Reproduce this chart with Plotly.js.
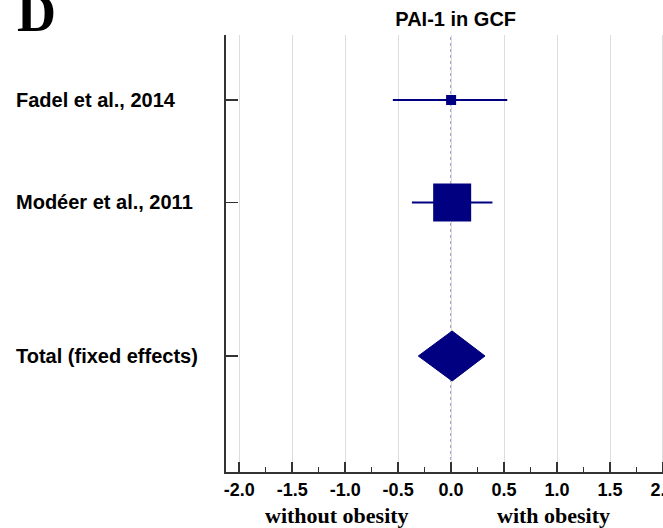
<!DOCTYPE html>
<html>
<head>
<meta charset="utf-8">
<script src="https://cdn.plot.ly/plotly-3.0.1.min.js"></script>
<style>
html, body { margin: 0; padding: 0; overflow: hidden; background: #fff; }
#chart { width: 680px; height: 528px; }
</style>
</head>
<body>
<div id="chart"></div>
<script>
// ---- data ----
var studies = ["Fadel et al., 2014", "Modéer et al., 2011"];
var studyPos = [0, 1];
var estimates = [0.0, 0.01];
var ciLow = [-0.55, -0.37];
var ciHigh = [0.53, 0.39];
var weights = [6.5, 93.5];

var totalLabel = "Total (fixed effects)";
var totalPos = 2.5;
var totalEst = 0.01;
var totalLow = -0.31;
var totalHigh = 0.32;

var xTickVals = [-2.0, -1.5, -1.0, -0.5, 0.0, 0.5, 1.0, 1.5, 2.0];
var xTickText = ["-2.0", "-1.5", "-1.0", "-0.5", "0.0", "0.5", "1.0", "1.5", "2.0"];
var chartTitle = "PAI-1 in GCF";
var panelLetter = "D";
var leftSideLabel = "without obesity";
var rightSideLabel = "with obesity";

// ---- styles ----
var NAVY = "#000080";
var sans = "Liberation Sans, Arial, sans-serif";
var serif = "Liberation Serif, Times New Roman, serif";
var diamondHalf = 0.244;

var studyTrace = {
  type: "scatter",
  mode: "markers",
  x: estimates,
  y: studyPos,
  marker: {
    symbol: "square",
    color: NAVY,
    opacity: 1,
    size: weights.map(function (w) { return 3.93 * Math.sqrt(w); }),
    line: { width: 0 }
  },
  error_x: {
    type: "data",
    symmetric: false,
    array: ciHigh.map(function (h, i) { return h - estimates[i]; }),
    arrayminus: ciLow.map(function (l, i) { return estimates[i] - l; }),
    color: NAVY,
    thickness: 2,
    width: 0
  },
  hoverinfo: "skip",
  showlegend: false
};

var diamondTrace = {
  type: "scatter",
  mode: "lines",
  x: [totalLow, totalEst, totalHigh, totalEst, totalLow],
  y: [totalPos, totalPos - diamondHalf, totalPos, totalPos + diamondHalf, totalPos],
  fill: "toself",
  fillcolor: NAVY,
  line: { color: NAVY, width: 1 },
  hoverinfo: "skip",
  showlegend: false
};

var labelNames = studies.concat([totalLabel]);
var labelPos = studyPos.concat([totalPos]);

var annotations = labelNames.map(function (t, i) {
  return {
    text: "<b>" + t + "</b>",
    xref: "paper", yref: "y",
    x: (14 - 226) / 448, y: labelPos[i],
    xanchor: "left", yanchor: "middle",
    showarrow: false,
    font: { family: sans, size: 20, color: "#000" }
  };
});
annotations.push({
  text: "<b>" + panelLetter + "</b>",
  xref: "paper", yref: "paper",
  x: (15 - 226) / 448, y: (472 - 45) / 437,
  xanchor: "left", yanchor: "bottom",
  showarrow: false,
  font: { family: serif, size: 54, color: "#000" }
});
annotations.push({
  text: "<b>" + leftSideLabel + "</b>",
  xref: "x", yref: "paper",
  x: -1.074, y: (472 - 515) / 437,
  xanchor: "center", yanchor: "middle",
  showarrow: false,
  font: { family: serif, size: 22, color: "#000" }
});
annotations.push({
  text: "<b>" + rightSideLabel + "</b>",
  xref: "x", yref: "paper",
  x: 0.966, y: (472 - 515) / 437,
  xanchor: "center", yanchor: "middle",
  showarrow: false,
  font: { family: serif, size: 22, color: "#000" }
});

var layout = {
  width: 680,
  height: 528,
  margin: { l: 226, r: 6, t: 35, b: 56, pad: 0 },
  paper_bgcolor: "#fff",
  plot_bgcolor: "#fff",
  title: {
    text: "<b>" + chartTitle + "</b>",
    xref: "container", yref: "container",
    x: 455.7 / 680, y: 1 - 19 / 528,
    xanchor: "center", yanchor: "middle",
    font: { family: sans, size: 20, color: "#000" }
  },
  xaxis: {
    range: [-2.125, 2.104],
    tickmode: "array",
    tickvals: xTickVals,
    ticktext: xTickText,
    ticks: "inside",
    ticklen: 10,
    tickwidth: 1.5,
    tickcolor: "#333",
    minor: { dtick: 0.25, tick0: 0, ticks: "inside", ticklen: 5, tickwidth: 1.5, tickcolor: "#333", showgrid: false },
    showgrid: true,
    gridcolor: "#dcdcdc",
    gridwidth: 1,
    zeroline: false,
    showline: true,
    linecolor: "#333",
    linewidth: 2,
    tickfont: { family: sans, size: 18, color: "#000", weight: "bold" },
    fixedrange: true
  },
  yaxis: {
    range: [3.633, -0.635],
    tickmode: "array",
    tickvals: labelPos,
    ticktext: labelNames.map(function () { return ""; }),
    showticklabels: false,
    ticks: "inside",
    ticklen: 12,
    tickwidth: 1.5,
    tickcolor: "#333",
    showgrid: false,
    zeroline: false,
    showline: true,
    linecolor: "#333",
    linewidth: 2,
    fixedrange: true
  },
  shapes: [{
    type: "line",
    xref: "x", yref: "paper",
    x0: 0, x1: 0, y0: 0, y1: 1,
    line: { color: "#1a1a9a", width: 1, dash: "dot" },
    layer: "below"
  }],
  annotations: annotations
};

Plotly.newPlot("chart", [diamondTrace, studyTrace], layout, { staticPlot: true, displayModeBar: false });
</script>
</body>
</html>
